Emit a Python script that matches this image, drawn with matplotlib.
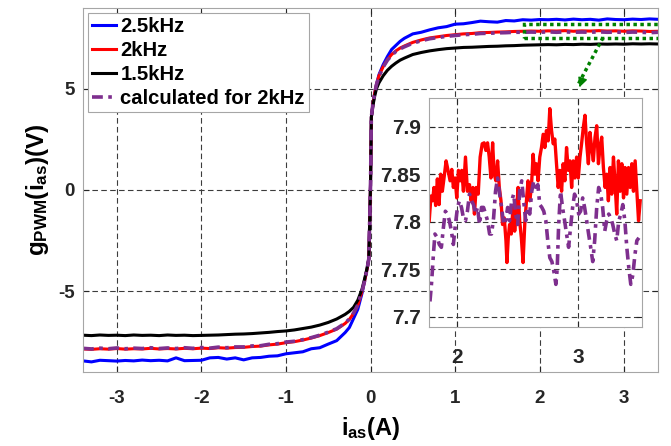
import matplotlib
matplotlib.use('Agg')
import matplotlib.pyplot as plt
from matplotlib.patches import Rectangle

plt.rcParams['font.family'] = ['Liberation Sans', 'DejaVu Sans']
plt.rcParams['font.weight'] = 'bold'
plt.rcParams['axes.unicode_minus'] = False
plt.rcParams['mathtext.fontset'] = 'custom'
plt.rcParams['mathtext.rm'] = 'Liberation Sans:bold'
plt.rcParams['mathtext.it'] = 'Liberation Sans:bold'
plt.rcParams['mathtext.bf'] = 'Liberation Sans:bold'

# ---- main curves: g_PWM(i_as) for three carrier frequencies ----
i_as = [-3.4, -3.3, -3.2, -3.1, -3.0, -2.9, -2.8, -2.7, -2.6, -2.5,
        -2.4, -2.3, -2.2, -2.1, -2.0, -1.9, -1.8, -1.7, -1.6, -1.5,
        -1.4, -1.3, -1.2, -1.1, -1.0, -0.9, -0.8, -0.7, -0.6, -0.5,
        -0.4, -0.3, -0.25, -0.2, -0.15, -0.1, -0.07, -0.04, -0.02,
        0.0, 0.01, 0.03, 0.05, 0.07,
        0.1, 0.15, 0.2, 0.25, 0.3, 0.35, 0.4,
        0.5, 0.6, 0.7, 0.8, 0.9, 1.0, 1.1, 1.2, 1.3, 1.4,
        1.5, 1.6, 1.7, 1.8, 1.9, 2.0, 2.1, 2.2, 2.3, 2.4,
        2.5, 2.6, 2.7, 2.8, 2.9, 3.0, 3.1, 3.2, 3.3, 3.4]

g_25k = [-8.45, -8.50, -8.42, -8.44, -8.46, -8.43, -8.45, -8.41, -8.44, -8.42,
         -8.45, -8.30, -8.44, -8.43, -8.42, -8.30, -8.28, -8.36, -8.30, -8.40,
         -8.30, -8.28, -8.22, -8.20, -8.10, -8.05, -8.00, -7.85, -7.80, -7.62,
         -7.45, -7.05, -6.80, -6.35, -5.90, -5.10, -4.50, -3.90, -3.40,
         0.2, 3.6, 4.3, 4.8, 5.2,
         5.7, 6.2, 6.6, 6.95, 7.15, 7.35, 7.5,
         7.72, 7.80, 7.92, 8.02, 8.08, 8.20, 8.22, 8.28, 8.35, 8.32,
         8.30, 8.38, 8.36, 8.42, 8.40, 8.43, 8.42, 8.44, 8.41, 8.45,
         8.42, 8.44, 8.40, 8.46, 8.43, 8.42, 8.45, 8.43, 8.46, 8.44]

g_2k = [-7.86, -7.88, -7.85, -7.87, -7.84, -7.87, -7.85, -7.86, -7.83, -7.86,
        -7.84, -7.86, -7.83, -7.85, -7.82, -7.84, -7.80, -7.82, -7.79, -7.78,
        -7.74, -7.72, -7.66, -7.62, -7.55, -7.50, -7.42, -7.32, -7.20, -7.05,
        -6.88, -6.60, -6.40, -6.10, -5.70, -5.00, -4.50, -3.90, -3.40,
        0.2, 3.6, 4.3, 4.8, 5.2,
        5.65, 6.1, 6.45, 6.7, 6.88, 7.02, 7.12,
        7.30, 7.42, 7.52, 7.58, 7.64, 7.68, 7.72, 7.74, 7.78, 7.79,
        7.81, 7.82, 7.84, 7.85, 7.86, 7.85, 7.87, 7.86, 7.88, 7.85,
        7.87, 7.86, 7.88, 7.86, 7.87, 7.85, 7.87, 7.86, 7.84, 7.85]

g_15k = [-7.18, -7.20, -7.17, -7.19, -7.18, -7.20, -7.17, -7.19, -7.18, -7.20,
         -7.17, -7.19, -7.18, -7.20, -7.19, -7.18, -7.17, -7.15, -7.13, -7.12,
         -7.10, -7.07, -7.04, -7.00, -6.97, -6.92, -6.85, -6.78, -6.68, -6.55,
         -6.38, -6.15, -6.00, -5.80, -5.45, -4.90, -4.40, -3.85, -3.40,
         0.2, 3.6, 4.2, 4.65, 5.0,
         5.3, 5.65, 5.92, 6.12, 6.28, 6.42, 6.52,
         6.70, 6.80, 6.88, 6.94, 6.99, 7.02, 7.05, 7.06, 7.08, 7.10,
         7.11, 7.13, 7.14, 7.16, 7.17, 7.18, 7.19, 7.18, 7.20, 7.19,
         7.21, 7.20, 7.22, 7.21, 7.22, 7.21, 7.23, 7.22, 7.23, 7.22]

g_calc = [-7.83, -7.86, -7.82, -7.85, -7.81, -7.85, -7.82, -7.84, -7.80, -7.84,
          -7.81, -7.84, -7.80, -7.83, -7.79, -7.82, -7.77, -7.80, -7.76, -7.76,
          -7.71, -7.70, -7.63, -7.60, -7.52, -7.48, -7.40, -7.30, -7.18, -7.03,
          -6.86, -6.58, -6.38, -6.08, -5.68, -5.00, -4.50, -3.90, -3.40,
          0.2, 3.6, 4.3, 4.8, 5.2,
          5.62, 6.08, 6.42, 6.66, 6.85, 6.98, 7.08,
          7.26, 7.38, 7.48, 7.54, 7.60, 7.64, 7.68, 7.70, 7.74, 7.75,
          7.77, 7.78, 7.80, 7.80, 7.81, 7.80, 7.82, 7.80, 7.82, 7.80,
          7.81, 7.80, 7.82, 7.80, 7.81, 7.79, 7.81, 7.80, 7.78, 7.80]

# ---- zoomed detail (inset) for 2 kHz, measured vs calculated ----
x_zoom_red = [1.773, 1.787, 1.801, 1.812, 1.826, 1.840, 1.854, 1.867, 1.881, 1.895,
              1.912, 1.928, 1.945, 1.959, 1.972, 1.986, 2.000, 2.014, 2.028, 2.041,
              2.055, 2.072, 2.088, 2.105, 2.119, 2.133, 2.146, 2.160, 2.177, 2.193,
              2.210, 2.226, 2.240, 2.254, 2.268, 2.282, 2.296, 2.309, 2.323, 2.337,
              2.351, 2.365, 2.378, 2.392, 2.406, 2.414, 2.425, 2.436, 2.450, 2.464,
              2.478, 2.492, 2.506, 2.519, 2.533, 2.547, 2.561, 2.575, 2.588, 2.602,
              2.616, 2.630, 2.644, 2.657, 2.671, 2.685, 2.699, 2.713, 2.727, 2.740,
              2.754, 2.768, 2.782, 2.796, 2.809, 2.823, 2.837, 2.851, 2.865, 2.878,
              2.892, 2.906, 2.920, 2.934, 2.948, 2.961, 2.975, 2.989, 3.003, 3.017,
              3.030, 3.044, 3.058, 3.072, 3.086, 3.099, 3.113, 3.127, 3.141, 3.155,
              3.169, 3.182, 3.196, 3.210, 3.224, 3.238, 3.251, 3.265, 3.279, 3.293,
              3.307, 3.320, 3.334, 3.348, 3.362, 3.376, 3.389, 3.403, 3.417, 3.431,
              3.445, 3.458, 3.472, 3.486, 3.500, 3.514]
g_zoom_red = [7.801, 7.827, 7.822, 7.836, 7.817, 7.845, 7.818, 7.850, 7.832, 7.846,
              7.864, 7.854, 7.843, 7.855, 7.836, 7.846, 7.825, 7.854, 7.843, 7.854,
              7.832, 7.868, 7.832, 7.839, 7.822, 7.836, 7.808, 7.836, 7.829, 7.868,
              7.882, 7.883, 7.875, 7.883, 7.868, 7.846, 7.883, 7.850, 7.843, 7.864,
              7.836, 7.822, 7.797, 7.804, 7.780, 7.757, 7.783, 7.797, 7.787, 7.815,
              7.790, 7.808, 7.836, 7.801, 7.783, 7.757, 7.797, 7.822, 7.843, 7.822,
              7.836, 7.871, 7.850, 7.861, 7.843, 7.868, 7.878, 7.892, 7.878, 7.896,
              7.885, 7.919, 7.896, 7.882, 7.887, 7.861, 7.836, 7.854, 7.832, 7.861,
              7.843, 7.878, 7.854, 7.864, 7.836, 7.864, 7.846, 7.868, 7.846, 7.868,
              7.882, 7.899, 7.912, 7.882, 7.861, 7.894, 7.878, 7.864, 7.889, 7.901,
              7.861, 7.878, 7.889, 7.857, 7.836, 7.850, 7.822, 7.857, 7.829, 7.868,
              7.839, 7.808, 7.864, 7.832, 7.861, 7.825, 7.857, 7.829, 7.857, 7.836,
              7.861, 7.832, 7.864, 7.832, 7.801, 7.822]

x_zoom_calc = [1.779, 1.793, 1.807, 1.820, 1.840, 1.856, 1.873, 1.890, 1.906, 1.923,
               1.939, 1.956, 1.972, 1.989, 2.006, 2.022, 2.039, 2.055, 2.072, 2.088,
               2.105, 2.122, 2.138, 2.155, 2.171, 2.188, 2.204, 2.221, 2.238, 2.254,
               2.271, 2.287, 2.304, 2.320, 2.337, 2.354, 2.370, 2.387, 2.403, 2.420,
               2.436, 2.453, 2.470, 2.486, 2.503, 2.519, 2.536, 2.552, 2.569, 2.586,
               2.602, 2.619, 2.635, 2.652, 2.669, 2.685, 2.702, 2.718, 2.735, 2.751,
               2.768, 2.785, 2.801, 2.818, 2.829, 2.840, 2.856, 2.873, 2.890, 2.906,
               2.923, 2.939, 2.956, 2.972, 2.989, 3.006, 3.022, 3.039, 3.055, 3.072,
               3.088, 3.105, 3.122, 3.138, 3.155, 3.171, 3.188, 3.204, 3.221, 3.237,
               3.254, 3.271, 3.287, 3.304, 3.320, 3.337, 3.354, 3.370, 3.387, 3.403,
               3.420, 3.436, 3.453, 3.470, 3.486, 3.503]
g_zoom_calc = [7.716, 7.737, 7.765, 7.787, 7.783, 7.776, 7.773, 7.794, 7.811, 7.808,
               7.801, 7.790, 7.776, 7.797, 7.815, 7.822, 7.815, 7.804, 7.801, 7.811,
               7.829, 7.822, 7.818, 7.808, 7.815, 7.797, 7.815, 7.815, 7.808, 7.801,
               7.787, 7.787, 7.804, 7.832, 7.846, 7.829, 7.815, 7.797, 7.801, 7.815,
               7.801, 7.822, 7.829, 7.808, 7.797, 7.832, 7.843, 7.822, 7.801, 7.815,
               7.808, 7.832, 7.843, 7.832, 7.839, 7.818, 7.815, 7.811, 7.801, 7.780,
               7.762, 7.758, 7.748, 7.734, 7.751, 7.794, 7.832, 7.815, 7.801, 7.787,
               7.773, 7.794, 7.815, 7.829, 7.822, 7.808, 7.811, 7.825, 7.815, 7.801,
               7.787, 7.773, 7.758, 7.780, 7.815, 7.836, 7.829, 7.815, 7.790, 7.801,
               7.808, 7.804, 7.797, 7.787, 7.780, 7.801, 7.808, 7.818, 7.801, 7.773,
               7.751, 7.734, 7.744, 7.765, 7.780, 7.783]

labels = ['2.5kHz', '2kHz', '1.5kHz', 'calculated for 2kHz']

# zoom box and arrow (data coords of main axes)
box_x0, box_x1 = 1.81, 3.42
box_y0, box_y1 = 7.54, 8.20
arrow_start = (2.75, 7.54)
arrow_end = (2.46, 4.95)

purple = '#7e2f8e'
grid_kw = dict(color='#3c3c3c', linestyle=(0, (5, 3)), linewidth=0.8)


def bold_ticks(a):
    for t in a.get_xticklabels() + a.get_yticklabels():
        t.set_fontweight('bold')


fig = plt.figure(figsize=(6.71, 4.46), dpi=100)
ax = fig.add_axes([83/671, 1-372/446, 575/671, 364/446])

ax.plot(i_as, g_25k, color='#0000ff', lw=2.2, label=labels[0])
ax.plot(i_as, g_2k, color='#ff0000', lw=2.2, label=labels[1])
ax.plot(i_as, g_15k, color='k', lw=2.2, label=labels[2])
ax.plot(i_as, g_calc, color=purple, lw=2.6, linestyle=(0, (3, 1.5, 1, 1.5)),
        label=labels[3])

ax.set_xlim(-3.4, 3.4)
ax.set_ylim(-9, 9)
ax.set_xticks([-3, -2, -1, 0, 1, 2, 3])
ax.set_yticks([-5, 0, 5])
ax.grid(True, **grid_kw)
ax.tick_params(direction='in', labelsize=13.5, colors='#262626', length=4,
               top=True, right=True)
ax.tick_params(axis='x', pad=13)
ax.tick_params(axis='y', pad=6)
bold_ticks(ax)
for s in ax.spines.values():
    s.set_color('#a6a6a6')
    s.set_linewidth(0.8)

ax.set_xlabel(r'$i_{as}$(A)', fontsize=17, fontweight='bold', labelpad=6)
ax.set_ylabel(r'$g_{PWM}(i_{as})$(V)', fontsize=17.5, fontweight='bold',
              labelpad=5)

leg = ax.legend(loc='upper left', bbox_to_anchor=(5/575, 1-5/364),
                borderaxespad=0, fontsize=14.6, handlelength=1.2,
                handletextpad=0.2, labelspacing=0.24, borderpad=0.2,
                fancybox=False, framealpha=1, edgecolor='#a6a6a6')
leg.get_frame().set_linewidth(0.8)
for t in leg.get_texts():
    t.set_fontweight('bold')

# zoom box + arrow
ax.add_patch(Rectangle((box_x0, box_y0), box_x1-box_x0, box_y1-box_y0,
                       fill=False, edgecolor='#008000', lw=2.5,
                       linestyle=(0, (1, 1)), clip_on=True, zorder=5))
ax.plot([arrow_start[0], arrow_end[0]], [arrow_start[1], arrow_end[1] + 0.3],
        color='#008000', lw=2.5, linestyle=(0, (1, 1)), zorder=5)
ax.annotate('', xy=arrow_end, xytext=(arrow_end[0] + 0.03, arrow_end[1] + 0.35),
            arrowprops=dict(arrowstyle='-|>', color='#008000', lw=1,
                            mutation_scale=14), zorder=6)

# inset
axin = fig.add_axes([429/671, 1-327.3/446, 213.3/671, 229.6/446])
axin.plot(x_zoom_red, g_zoom_red, color='#ff0000', lw=2.4)
axin.plot(x_zoom_calc, g_zoom_calc, color=purple, lw=2.6,
          linestyle=(0, (3, 1.5, 1, 1.5)))
axin.set_xlim(1.771, 3.531)
axin.set_ylim(7.6888, 7.9305)
axin.set_xticks([2, 3])
axin.set_yticks([7.7, 7.75, 7.8, 7.85, 7.9])
axin.set_yticklabels(['7.7', '7.75', '7.8', '7.85', '7.9'])
axin.grid(True, **grid_kw)
axin.tick_params(direction='in', labelsize=15, colors='#262626', length=4,
                 top=True, right=True)
axin.tick_params(axis='x', pad=15)
axin.tick_params(axis='y', pad=6)
bold_ticks(axin)
for s in axin.spines.values():
    s.set_color('#a6a6a6')
    s.set_linewidth(0.8)

fig.savefig('out.png', dpi=100)
